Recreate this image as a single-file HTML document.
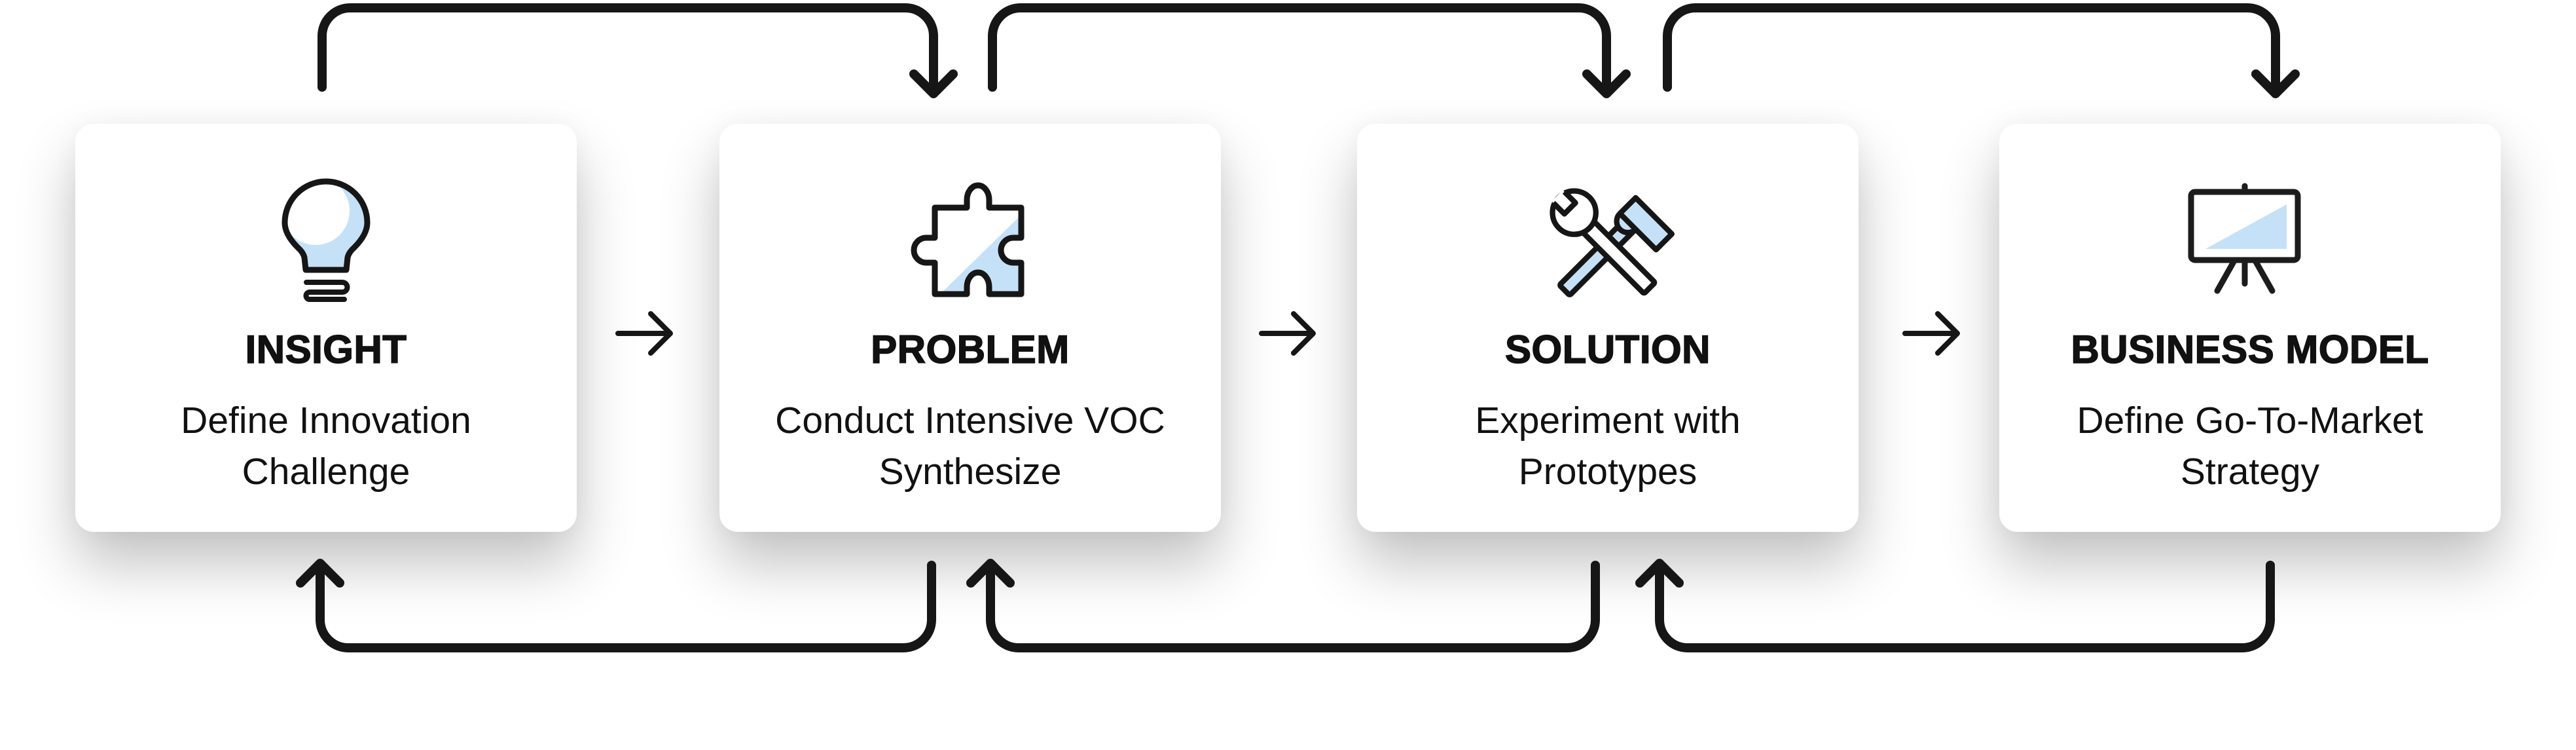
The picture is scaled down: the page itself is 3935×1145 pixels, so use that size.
<!DOCTYPE html>
<html><head><meta charset="utf-8"><style>
html,body{margin:0;padding:0;background:#fff;}
body{width:3935px;height:1145px;position:relative;overflow:hidden;font-family:"Liberation Sans",sans-serif;color:#111;}
.card{position:absolute;top:189px;width:766px;height:623px;background:#fff;border-radius:28px;box-shadow:0 50px 90px rgba(0,0,0,0.24),0 0 40px rgba(0,0,0,0.04);}
.t{position:absolute;left:0;width:100%;text-align:center;top:309px;font-weight:bold;font-size:60px;line-height:72px;letter-spacing:0.5px;-webkit-text-stroke:1.5px #111;}
.s{position:absolute;left:0;width:100%;text-align:center;top:414px;font-size:57px;line-height:78px;}
svg{position:absolute;left:0;top:0;}
</style></head><body>
<div class="card" style="left:115px"><div class="t">INSIGHT</div><div class="s">Define Innovation<br>Challenge</div></div>
<div class="card" style="left:1099px"><div class="t">PROBLEM</div><div class="s">Conduct Intensive VOC<br>Synthesize</div></div>
<div class="card" style="left:2073px"><div class="t">SOLUTION</div><div class="s">Experiment with<br>Prototypes</div></div>
<div class="card" style="left:3054px"><div class="t">BUSINESS MODEL</div><div class="s">Define Go-To-Market<br>Strategy</div></div>
<svg width="3935" height="1145" viewBox="0 0 3935 1145">
<defs>
<clipPath id="bulb"><path d="M467,412 L465,393 Q463,385 455,378 Q435,358 435,340 A63 63 0 1 1 561,340 Q561,358 541,378 Q533,385 531,393 L529,412 Z"/></clipPath>
<clipPath id="puz"><path d="M1428,317 H1477 V305 A17 22 0 0 1 1511,305 V317 H1560 V363 H1548 A19 19 0 0 0 1548,401 H1560 V449 H1511 V438 A17 22 0 0 0 1477,438 V449 H1428 V401 H1415 A19 19 0 0 1 1415,363 H1428 Z"/></clipPath>
</defs>
<g fill="none" stroke="#161616" stroke-width="14" stroke-linecap="round" stroke-linejoin="round">
<path d="M492,133 V55 A43 43 0 0 1 535,12 H1383 A43 43 0 0 1 1426,55 V140"/><path d="M1396,113 L1426,143 L1456,113"/>
<path d="M1516,133 V55 A43 43 0 0 1 1559,12 H2411 A43 43 0 0 1 2454,55 V140"/><path d="M2424,113 L2454,143 L2484,113"/>
<path d="M2547,133 V55 A43 43 0 0 1 2590,12 H3433 A43 43 0 0 1 3476,55 V140"/><path d="M3446,113 L3476,143 L3506,113"/>
<path d="M1423,863 V946 A43 43 0 0 1 1380,989 H532 A43 43 0 0 1 489,946 V862"/><path d="M459,890 L489,860 L519,890"/>
<path d="M2437,863 V946 A43 43 0 0 1 2394,989 H1556 A43 43 0 0 1 1513,946 V862"/><path d="M1483,890 L1513,860 L1543,890"/>
<path d="M3468,863 V946 A43 43 0 0 1 3425,989 H2578 A43 43 0 0 1 2535,946 V862"/><path d="M2505,890 L2535,860 L2565,890"/>
</g>
<g fill="none" stroke="#161616" stroke-width="8" stroke-linecap="round" stroke-linejoin="round">
<path d="M944,509 H1024 M994,479 L1024,509 L994,539"/>
<path d="M1927,509 H2006 M1976,479 L2006,509 L1976,539"/>
<path d="M2910,509 H2990 M2960,479 L2990,509 L2960,539"/>
</g>
<g clip-path="url(#bulb)"><rect x="430" y="270" width="140" height="150" fill="#c5e1f7"/><circle cx="482" cy="322" r="52" fill="#fff"/></g>
<path d="M467,412 L465,393 Q463,385 455,378 Q435,358 435,340 A63 63 0 1 1 561,340 Q561,358 541,378 Q533,385 531,393 L529,412 Z" fill="none" stroke="#161616" stroke-width="9" stroke-linejoin="round"/>
<path d="M468,431 H523 A7.5 7.5 0 0 1 523,446 H473 A5.5 5.5 0 0 0 473,457 H526" fill="none" stroke="#161616" stroke-width="8" stroke-linecap="round"/>
<g clip-path="url(#puz)"><rect x="1390" y="270" width="180" height="190" fill="#fff"/><polygon points="1566,322 1566,455 1430,455" fill="#c5e1f7"/></g>
<path d="M1428,317 H1477 V305 A17 22 0 0 1 1511,305 V317 H1560 V363 H1548 A19 19 0 0 0 1548,401 H1560 V449 H1511 V438 A17 22 0 0 0 1477,438 V449 H1428 V401 H1415 A19 19 0 0 1 1415,363 H1428 Z" fill="none" stroke="#161616" stroke-width="9" stroke-linejoin="round"/>
<g transform="translate(2455,378) scale(0.92) rotate(-45)" stroke="#161616" stroke-width="9" stroke-linejoin="round" fill="#c5e1f7">
<rect x="-100" y="-12" width="160" height="24" rx="3"/>
<path d="M55,-25 H92 V60 H55 V12 Z M55,-25 A18 18 0 0 0 55,12" />
</g>
<g transform="translate(2458,378) scale(0.92) rotate(45)" stroke="#161616" stroke-width="9" stroke-linejoin="round" fill="#fff">
<rect x="-70" y="-13" width="165" height="26" rx="3"/>
<circle cx="-82" cy="0" r="36"/>
<rect x="-122" y="-13" width="34" height="26" stroke="none"/>
<path d="M-118,-13 H-92 V13 H-118" fill="none"/>
</g>
<rect x="3347" y="293" width="163" height="104" rx="6" fill="#fff" stroke="#1c1c1c" stroke-width="9"/>
<polygon points="3369,380 3493,312 3493,380" fill="#c5e1f7"/>
<g stroke="#1c1c1c" stroke-width="9" stroke-linecap="round">
<line x1="3429" y1="284" x2="3429" y2="293"/>
<line x1="3429" y1="397" x2="3429" y2="433"/>
<line x1="3413" y1="398" x2="3387" y2="444"/>
<line x1="3445" y1="398" x2="3471" y2="444"/>
</g>
</svg>
</body></html>
